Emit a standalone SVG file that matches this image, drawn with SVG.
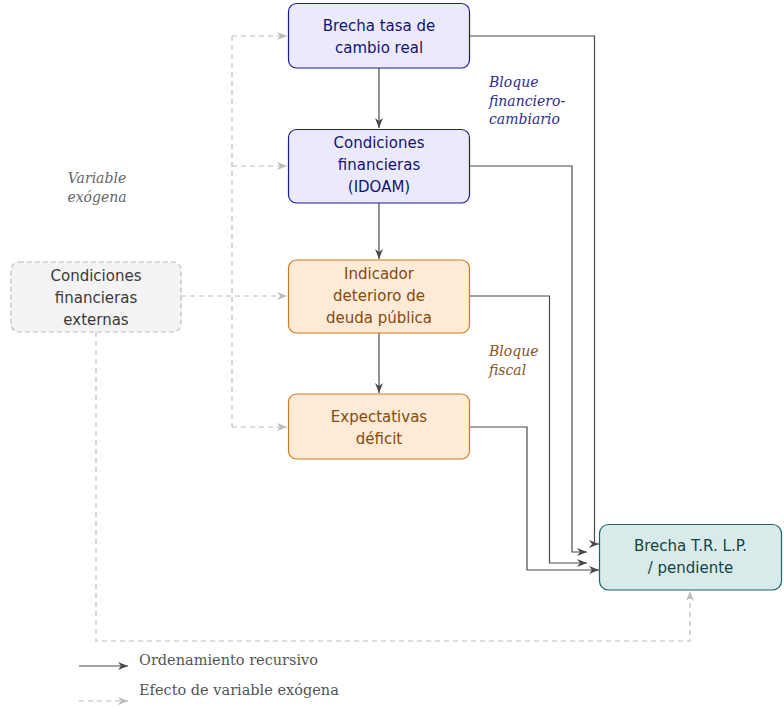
<svg xmlns="http://www.w3.org/2000/svg" width="784" height="707" viewBox="0 0 784 707">
<defs>
<style>
.nt{font-family:"DejaVu Sans",sans-serif;font-size:15px;text-anchor:middle}
.lab{font-family:"DejaVu Serif","Liberation Serif",serif;font-style:italic;font-size:14px}
.leg{font-family:"DejaVu Serif","Liberation Serif",serif;font-size:14.5px;fill:#555}
.blue rect{fill:#eaeafc;stroke:#1a1a99;stroke-width:1.2}
.blue text{fill:#141470}
.orng rect{fill:#fdebd7;stroke:#d07a22;stroke-width:1.2}
.orng text{fill:#874a0e}
.teal rect{fill:#d8ebea;stroke:#1d6363;stroke-width:1.2}
.teal text{fill:#134444}
.gray rect{fill:#f3f3f3;stroke:#bdbdbd;stroke-width:1.2;stroke-dasharray:5,3}
.gray text{fill:#3a3a3a}
.solid{fill:none;stroke:#4a4a4a;stroke-width:1.2;marker-end:url(#ah)}
.dash{fill:none;stroke:#bbbbbb;stroke-width:1.2;stroke-dasharray:5,4}
.dasha{fill:none;stroke:#bbbbbb;stroke-width:1.2;stroke-dasharray:5,4;marker-end:url(#ahg)}
</style>
<marker id="ah" markerUnits="userSpaceOnUse" markerWidth="12" markerHeight="10" refX="10" refY="4" orient="auto">
<path d="M0,0 L10,4 L0,8 L3,4 z" fill="#4a4a4a"/>
</marker>
<marker id="ahg" markerUnits="userSpaceOnUse" markerWidth="12" markerHeight="10" refX="10" refY="4" orient="auto">
<path d="M0,0 L10,4 L0,8 L3,4 z" fill="#bbbbbb"/>
</marker>
</defs>
<rect width="784" height="707" fill="#ffffff"/>
<g id="connectors">
<path class="solid" d="M379,68 V128"/>
<path class="solid" d="M379,203 V259"/>
<path class="solid" d="M379,333 V393"/>
<path class="solid" d="M470,36 H594.5 V544 H599"/>
<path class="solid" d="M470,166 H572 V552 H587"/>
<path class="solid" d="M470,296 H549.5 V563 H587"/>
<path class="solid" d="M470,427 H527 V570 H599"/>
<path class="dash" d="M232,36 V427"/>
<path class="dasha" d="M232,36 H287"/>
<path class="dasha" d="M232,166 H287"/>
<path class="dasha" d="M181,296 H287"/>
<path class="dasha" d="M232,427 H287"/>
<path class="dasha" d="M96,332 V641 H690 V591"/>
</g>
<g id="n1" class="blue">
<rect x="288.5" y="3.5" width="181" height="64.5" rx="8"/>
<text class="nt" x="379" y="31">Brecha tasa de</text>
<text class="nt" x="379" y="52.5">cambio real</text>
</g>
<g id="n2" class="blue">
<rect x="288.5" y="129.5" width="181" height="73.5" rx="8"/>
<text class="nt" x="379" y="148">Condiciones</text>
<text class="nt" x="379" y="170">financieras</text>
<text class="nt" x="379" y="192">(IDOAM)</text>
</g>
<g id="n3" class="orng">
<rect x="288.5" y="260" width="181" height="73" rx="8"/>
<text class="nt" x="379" y="279">Indicador</text>
<text class="nt" x="379" y="301">deterioro de</text>
<text class="nt" x="379" y="323">deuda pública</text>
</g>
<g id="n4" class="orng">
<rect x="288.5" y="394" width="181" height="65" rx="8"/>
<text class="nt" x="379" y="422">Expectativas</text>
<text class="nt" x="379" y="443.5">déficit</text>
</g>
<g id="n5" class="teal">
<rect x="599.5" y="524.5" width="182" height="65.5" rx="9"/>
<text class="nt" x="690.5" y="551">Brecha T.R. L.P.</text>
<text class="nt" x="690.5" y="572.5">/ pendiente</text>
</g>
<g id="exo" class="gray">
<rect x="11" y="262" width="170" height="70" rx="8"/>
<text class="nt" x="96" y="281">Condiciones</text>
<text class="nt" x="96" y="303">financieras</text>
<text class="nt" x="96" y="325">externas</text>
</g>
<g id="labels">
<text class="lab" x="489" y="87" fill="#2e2e90">Bloque</text>
<text class="lab" x="489" y="105.5" fill="#2e2e90">financiero-</text>
<text class="lab" x="489" y="124" fill="#2e2e90">cambiario</text>
<text class="lab" x="489" y="356" fill="#8a5420">Bloque</text>
<text class="lab" x="489" y="374.5" fill="#8a5420">fiscal</text>
<text class="lab" x="97" y="183" fill="#666666" text-anchor="middle">Variable</text>
<text class="lab" x="97" y="201.5" fill="#666666" text-anchor="middle">exógena</text>
</g>
<g id="legend">
<path class="solid" d="M79,666 H128"/>
<text class="leg" x="139" y="665">Ordenamiento recursivo</text>
<path class="dasha" d="M79,701 H128"/>
<text class="leg" x="139" y="695">Efecto de variable exógena</text>
</g>
</svg>
